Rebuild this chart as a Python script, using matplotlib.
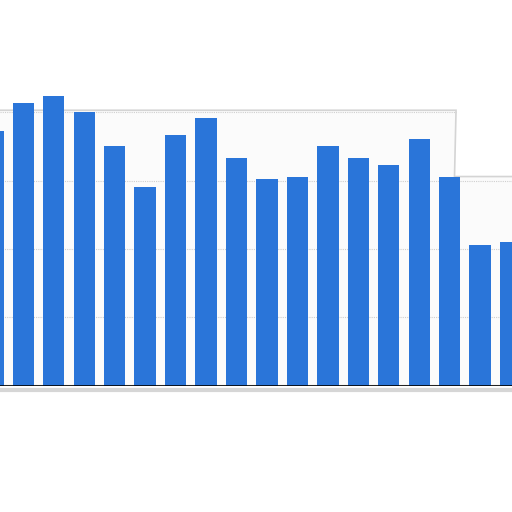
import matplotlib
matplotlib.use("Agg")
import matplotlib.pyplot as plt
from matplotlib.patches import Polygon

categories = list(range(18))
values = [37.2, 41.4, 42.4, 40.0, 35.1, 29.0, 36.7, 39.2, 33.3,
          30.3, 30.6, 35.1, 33.3, 32.3, 36.1, 30.5, 20.6, 21.0]
grid_ticks = [10, 20, 30, 40]

bar_color = "#2A75D9"

fig = plt.figure(figsize=(5.12, 5.12), dpi=100)
fig.patch.set_facecolor("white")
base = (512 - 385.7) / 512
ax = fig.add_axes([0, base, 1, 1 - base])
ax.set_facecolor("white")
ax.set_xlim(0.233, 17.048)
ax.set_ylim(0, 56.43)

# faint torn panel behind the plot area
tear_x = 15.21
panel = Polygon([(-1, 0), (-1, 40.3), (tear_x, 40.3), (tear_x - 0.05, 30.6),
                 (19, 30.6), (19, 0)], closed=True,
                facecolor="#fbfbfb", edgecolor="#d4d4d4", linewidth=1.2, zorder=0)
ax.add_patch(panel)

for t in grid_ticks:
    xmax = 1.0 if t < 30.6 else (tear_x - 0.233) / (17.048 - 0.233)
    ax.axhline(t, xmax=xmax, color="#cfcfcf", linestyle=(0, (1, 1)),
               linewidth=0.8, zorder=1)

ax.bar(categories, values, width=0.7, color=bar_color, zorder=2)

ax.axhline(0, color="black", linewidth=1.2, zorder=3)
ax.axhline(-0.6, color="#d6d6d6", linewidth=3, zorder=1, clip_on=False)

for s in ax.spines.values():
    s.set_visible(False)
ax.set_xticks([])
ax.set_yticks([])

fig.savefig("out.png", dpi=100, facecolor="white")
